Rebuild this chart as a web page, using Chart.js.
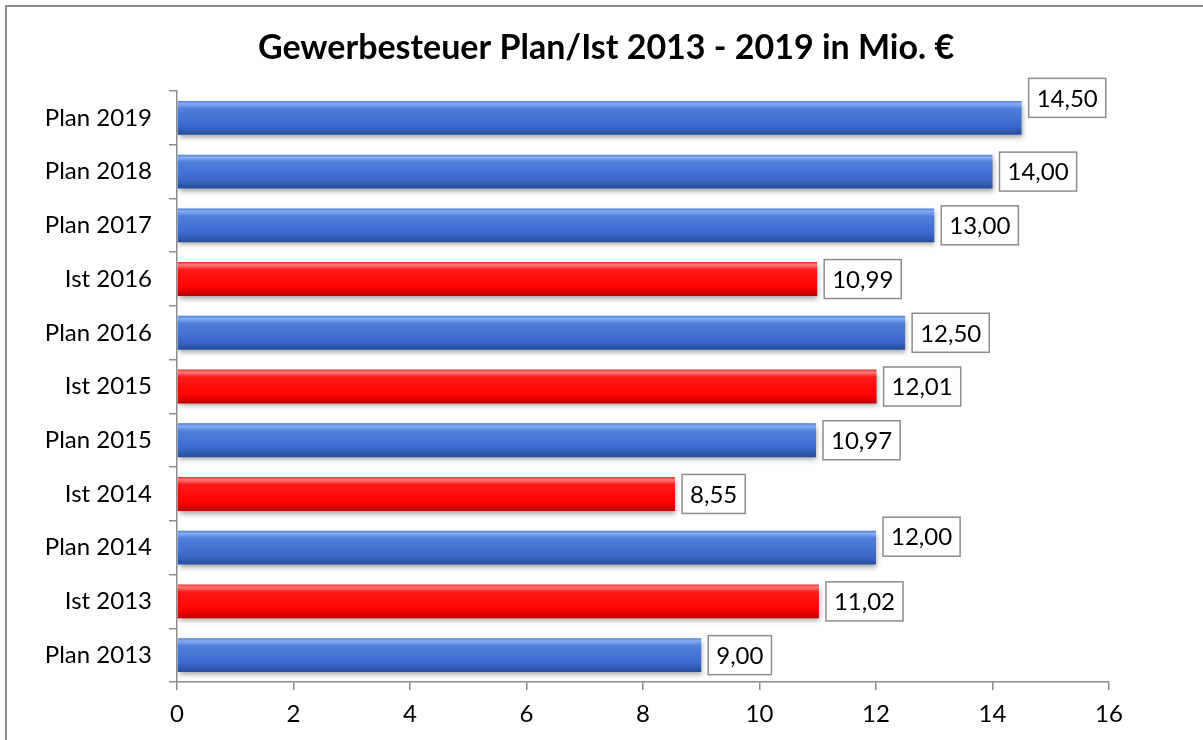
<!DOCTYPE html>
<html lang="de">
<head>
    <meta charset="UTF-8">
    <title>Gewerbesteuer Plan/Ist 2013 - 2019</title>
    <script src="https://cdn.jsdelivr.net/npm/chart.js@4/dist/chart.umd.min.js"></script>
    <style>
        * { margin: 0; padding: 0; box-sizing: border-box; }
        body { background: #fff; width: 1203px; height: 740px; overflow: hidden; position: relative; }
        .frame {
            position: absolute; left: 5px; top: 5px; width: 1400px; height: 900px;
            border: 2px solid #8c8c8c;
        }
        .chart-box { position: absolute; left: 0; top: 0; width: 1203px; height: 740px; }
    </style>
</head>
<body>
    <div class="frame"></div>
    <div class="chart-box"><canvas id="taxChart"></canvas></div>

    <script>
        const categories = ['Plan 2019', 'Plan 2018', 'Plan 2017', 'Ist 2016', 'Plan 2016', 'Ist 2015',
                            'Plan 2015', 'Ist 2014', 'Plan 2014', 'Ist 2013', 'Plan 2013'];
        const values = [14.50, 14.00, 13.00, 10.99, 12.50, 12.01, 10.97, 8.55, 12.00, 11.02, 9.00];
        const xTickValues = [0, 2, 4, 6, 8, 10, 12, 14, 16];
        const titleText = 'Gewerbesteuer Plan/Ist 2013 - 2019 in Mio. €';

        const FONT = 'Lato, "Open Sans", sans-serif';
        const BAR_PCT = 0.63;

        const formatDe = (v) => v.toFixed(2).replace('.', ',');
        const isIst = (i) => categories[i].startsWith('Ist');

        // glossy gradient per bar, built from the y scale position of the category
        function barFill(c) {
            const solid = isIst(c.dataIndex) ? '#f00000' : '#3f6fd0';
            const y = c.chart.scales && c.chart.scales.y;
            if (!y || c.dataIndex === undefined) return solid;
            const cy = y.getPixelForValue(c.dataIndex);
            const band = y.height / categories.length;
            const h = band * BAR_PCT;
            if (!isFinite(cy) || !isFinite(h)) return solid;
            const g = c.chart.ctx.createLinearGradient(0, cy - h / 2, 0, cy + h / 2);
            if (isIst(c.dataIndex)) {
                g.addColorStop(0, '#e83030');
                g.addColorStop(0.08, '#ff7a7a');
                g.addColorStop(0.22, '#ff1a1a');
                g.addColorStop(0.75, '#ff0000');
                g.addColorStop(1, '#b80000');
            } else {
                g.addColorStop(0, '#4a7ad6');
                g.addColorStop(0.08, '#86aef0');
                g.addColorStop(0.22, '#4f80de');
                g.addColorStop(0.75, '#3a69cb');
                g.addColorStop(1, '#264d9c');
            }
            return g;
        }

        const barShadow = {
            id: 'barShadow',
            beforeDatasetDraw(chart) {
                const ctx = chart.ctx;
                ctx.save();
                ctx.shadowColor = 'rgba(0,0,0,0.35)';
                ctx.shadowBlur = 5;
                ctx.shadowOffsetY = 3;
                ctx.shadowOffsetX = 1;
            },
            afterDatasetDraw(chart) {
                chart.ctx.restore();
            }
        };

        // title centred on the whole frame, not only on the padded layout box
        const frameTitle = {
            id: 'frameTitle',
            afterDraw(chart, args, opts) {
                const ctx = chart.ctx;
                ctx.save();
                ctx.font = 'bold 34px ' + FONT;
                ctx.fillStyle = '#000';
                ctx.textAlign = 'center';
                ctx.textBaseline = 'middle';
                ctx.fillText(opts.text, opts.centerX, opts.centerY);
                ctx.restore();
            }
        };

        const boxLabels = {
            id: 'boxLabels',
            afterDatasetsDraw(chart, args, opts) {
                const ctx = chart.ctx;
                const meta = chart.getDatasetMeta(0);
                ctx.save();
                ctx.font = '24px ' + FONT;
                ctx.textAlign = 'center';
                ctx.textBaseline = 'middle';
                meta.data.forEach((bar, i) => {
                    const text = formatDe(values[i]);
                    const w = ctx.measureText(text).width + 2 * opts.padX;
                    const h = opts.height;
                    const x = bar.x + opts.gap;
                    const cy = bar.y + (opts.nudge[i] || 0);
                    ctx.fillStyle = '#fff';
                    ctx.fillRect(x, cy - h / 2, w, h);
                    ctx.strokeStyle = '#8c8c8c';
                    ctx.lineWidth = 1.5;
                    ctx.strokeRect(x, cy - h / 2, w, h);
                    ctx.fillStyle = '#000';
                    ctx.fillText(text, x + w / 2, cy + 1);
                });
                ctx.restore();
            }
        };

        new Chart(document.getElementById('taxChart'), {
            type: 'bar',
            data: {
                labels: categories,
                datasets: [{
                    data: values,
                    backgroundColor: barFill,
                    borderWidth: 0,
                    barPercentage: BAR_PCT,
                    categoryPercentage: 1
                }]
            },
            options: {
                indexAxis: 'y',
                responsive: true,
                maintainAspectRatio: false,
                animation: false,
                layout: { padding: { left: 0, right: 94, top: 91, bottom: 0 } },
                scales: {
                    x: {
                        min: 0,
                        max: 16,
                        afterBuildTicks: (s) => { s.ticks = xTickValues.map(v => ({ value: v })); },
                        afterFit: (s) => { s.height = 58; },
                        grid: { drawOnChartArea: false, drawTicks: true, tickLength: 8, color: '#8c8c8c', lineWidth: 1.5 },
                        border: { display: true, color: '#8c8c8c', width: 1.5 },
                        ticks: { color: '#000', font: { family: FONT, size: 24 }, padding: 10, maxRotation: 0 }
                    },
                    y: {
                        afterFit: (s) => { s.width = 177; },
                        grid: { drawOnChartArea: false, drawTicks: true, tickLength: 8, color: '#8c8c8c', lineWidth: 1.5, offset: true },
                        border: { display: true, color: '#8c8c8c', width: 1.5 },
                        ticks: { color: '#000', font: { family: FONT, size: 24 }, padding: 17 }
                    }
                },
                plugins: {
                    legend: { display: false },
                    tooltip: { enabled: false },
                    title: { display: false },
                    frameTitle: { text: titleText, centerX: 606, centerY: 48 },
                    boxLabels: { gap: 7, padX: 8, height: 39, nudge: { 0: -20, 8: -11 } }
                }
            },
            plugins: [barShadow, boxLabels, frameTitle]
        });
    </script>
</body>
</html>
